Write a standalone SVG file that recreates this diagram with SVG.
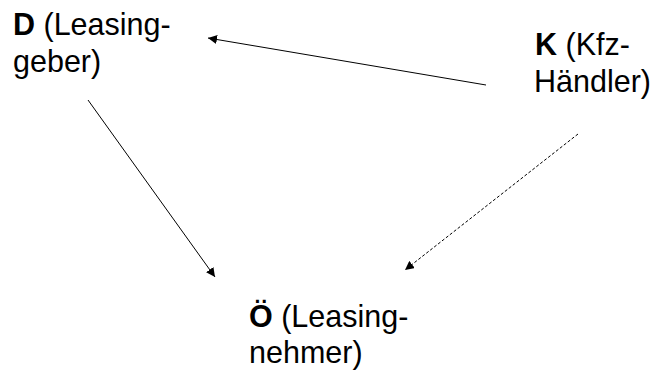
<svg xmlns="http://www.w3.org/2000/svg" width="659" height="376" viewBox="0 0 659 376">
<defs>
<style>
text{font-family:"Liberation Sans",Arial,sans-serif;font-size:30.5px;fill:#000}
.b{font-weight:bold}
.e{stroke:#000;stroke-width:1;fill:none}
.d{stroke-dasharray:3,2}
</style>
<marker id="ah" viewBox="0 0 10 10" refX="10" refY="5" markerWidth="9" markerHeight="9" markerUnits="userSpaceOnUse" orient="auto"><path d="M0,0L10,5L0,10z" fill="#000"/></marker>
</defs>
<rect width="659" height="376" fill="#fff"/>
<g id="connectors">
<line class="e" x1="486" y1="85" x2="208" y2="38" marker-end="url(#ah)"/>
<line class="e" x1="88" y1="100" x2="215" y2="277" marker-end="url(#ah)"/>
<line class="e d" x1="578" y1="134" x2="405" y2="270" marker-end="url(#ah)"/>
</g>
<g id="nodeD"><text x="13" y="35"><tspan class="b">D</tspan> (Leasing-</text><text x="13" y="72">geber)</text></g>
<g id="nodeK"><text x="535" y="55"><tspan class="b">K</tspan> (Kfz-</text><text x="534" y="92">Händler)</text></g>
<g id="nodeO"><text x="249" y="327"><tspan class="b">Ö</tspan> (Leasing-</text><text x="249" y="363">nehmer)</text></g>
</svg>
